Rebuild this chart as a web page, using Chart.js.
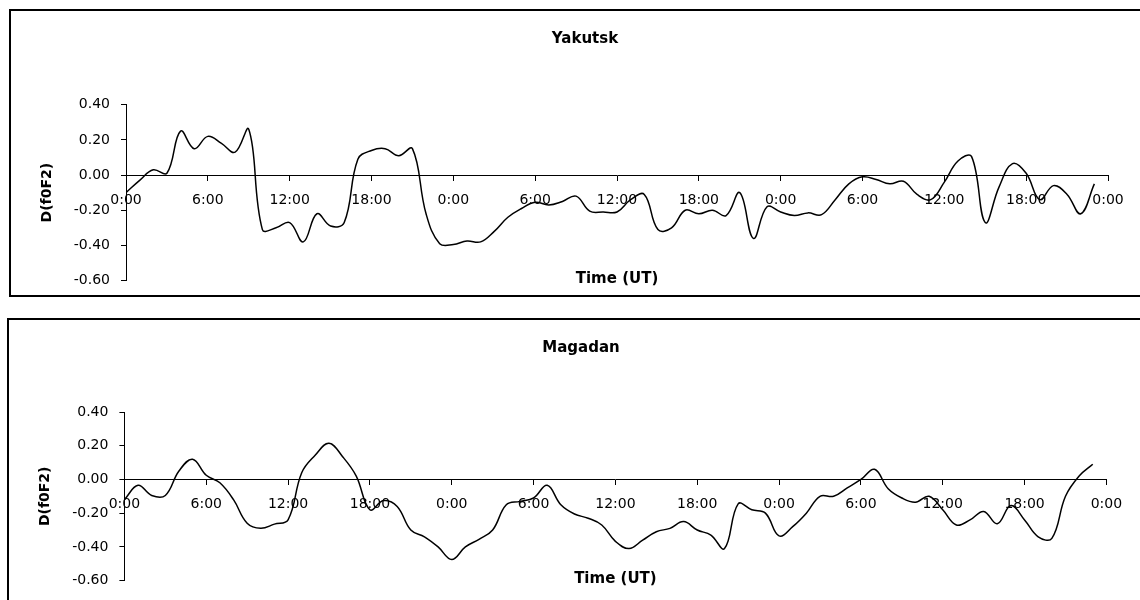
<!DOCTYPE html>
<html>
<head>
<meta charset="utf-8">
<title>D(f0F2) Yakutsk / Magadan</title>
<script src="https://cdn.jsdelivr.net/npm/chart.js@4/dist/chart.umd.min.js"></script>
<style>
  html, body { margin: 0; padding: 0; background: #fff; width: 1140px; height: 600px; overflow: hidden; }
  .frame { position: absolute; box-sizing: border-box; border: 2px solid #000; }
  #frameTop { left: 9px; top: 9px; width: 1200px; height: 288px; }
  #frameBottom { left: 7px; top: 318px; width: 1200px; height: 400px; }
  canvas { position: absolute; left: 0; }
  #yakutsk { top: 0; }
  #magadan { top: 300px; }
</style>
</head>
<body>
<div class="frame" id="frameTop"></div>
<div class="frame" id="frameBottom"></div>
<canvas id="yakutsk" width="1140" height="300"></canvas>
<canvas id="magadan" width="1140" height="300"></canvas>
<script>
// Hours since the start of the 3-day interval (UT)
const hours = [
  0, 1, 2, 3, 4, 5, 6, 7, 8, 9, 10, 11, 12, 13, 14, 15, 16, 17, 18, 19, 20, 21, 22, 23,
  24, 25, 26, 27, 28, 29, 30, 31, 32, 33, 34, 35, 36, 37, 38, 39, 40, 41, 42, 43, 44, 45, 46, 47,
  48, 49, 50, 51, 52, 53, 54, 55, 56, 57, 58, 59, 60, 61, 62, 63, 64, 65, 66, 67, 68, 69, 70, 71
];

// D(f0F2) values
const yakutsk = [
  -0.10, -0.03, 0.03, 0.01, 0.25, 0.15, 0.22, 0.18, 0.13, 0.26, -0.31, -0.30,
  -0.27, -0.38, -0.22, -0.29, -0.27, 0.09, 0.14, 0.15, 0.11, 0.15, -0.22, -0.39,
  -0.395, -0.375, -0.38, -0.32, -0.24, -0.19, -0.155, -0.17, -0.15, -0.12, -0.205, -0.21,
  -0.21, -0.14, -0.11, -0.31, -0.30, -0.20, -0.22, -0.20, -0.23, -0.10, -0.36, -0.18,
  -0.21, -0.23, -0.215, -0.225, -0.14, -0.05, -0.01, -0.025, -0.05, -0.035, -0.11, -0.14,
  -0.04, 0.08, 0.105, -0.27, -0.07, 0.065, 0.01, -0.14, -0.06, -0.11, -0.22, -0.05
];

const magadan = [
  -0.12, -0.035, -0.095, -0.095, 0.05, 0.12, 0.025, -0.02, -0.12, -0.26, -0.29, -0.265,
  -0.24, 0.04, 0.145, 0.215, 0.135, 0.02, -0.18, -0.125, -0.16, -0.30, -0.34, -0.40,
  -0.475, -0.40, -0.355, -0.30, -0.15, -0.13, -0.11, -0.035, -0.15, -0.205, -0.23, -0.27,
  -0.367, -0.41, -0.36, -0.31, -0.29, -0.25, -0.30, -0.33, -0.41, -0.145, -0.18, -0.20,
  -0.335, -0.28, -0.20, -0.10, -0.10, -0.05, 0.0, 0.06, -0.055, -0.11, -0.135, -0.10,
  -0.18, -0.27, -0.24, -0.19, -0.263, -0.155, -0.24, -0.34, -0.35, -0.10, 0.02, 0.09
];

// X axis ticks every 6 hours
const tickHours = [0, 6, 12, 18, 24, 30, 36, 42, 48, 54, 60, 66, 72];
const tickLabels = ["0:00", "6:00", "12:00", "18:00", "0:00", "6:00", "12:00", "18:00", "0:00", "6:00", "12:00", "18:00", "0:00"];

const FONT = "'DejaVu Sans', 'Liberation Sans', Arial, sans-serif";
Chart.defaults.font.family = FONT;
Chart.defaults.color = "#000";

// Build one panel
function makeChart(id, title, values, L) {
  return new Chart(document.getElementById(id), {
    type: "line",
    data: {
      datasets: [{
        data: hours.map((h, i) => ({ x: h, y: values[i] })),
        borderColor: "#000",
        borderWidth: 1.5,
        pointRadius: 0,
        tension: 0.4,
        fill: false,
        xAxisID: "x",
        yAxisID: "y"
      }]
    },
    options: {
      responsive: false,
      animation: false,
      events: [],
      layout: { padding: { left: L.left, right: L.right, top: L.top, bottom: L.bottom } },
      plugins: {
        legend: { display: false },
        tooltip: { enabled: false },
        title: {
          display: true,
          text: title,
          color: "#000",
          font: { size: 15, weight: "bold" },
          padding: { top: L.titleTop, bottom: L.titleBottom }
        }
      },
      scales: {
        x: {
          type: "linear",
          min: 0,
          max: 72,
          position: { y: 0 },
          afterBuildTicks: s => { s.ticks = tickHours.map(v => ({ value: v })); },
          ticks: {
            callback: (v, i) => tickLabels[i],
            color: "#000",
            font: { size: 14 },
            padding: 12,
            maxRotation: 0,
            autoSkip: false
          },
          grid: { display: true, drawOnChartArea: false, drawTicks: true, tickLength: 5, color: "#000" },
          border: { display: true, color: "#000", width: 1 }
        },
        // carries only the "Time (UT)" caption at the bottom of the plot
        xTitle: {
          type: "linear",
          position: "bottom",
          ticks: { display: false },
          grid: { display: false },
          border: { display: false },
          title: { display: true, text: "Time (UT)", color: "#000", font: { size: 15, weight: "bold" }, padding: 0 },
          afterFit: s => { s.height = L.xTitleH; }
        },
        y: {
          type: "linear",
          position: "left",
          min: -0.6,
          max: 0.4,
          ticks: {
            stepSize: 0.2,
            callback: v => (Math.abs(v) < 1e-9 ? "0.00" : v.toFixed(2)),
            color: "#000",
            font: { size: 14 },
            padding: 11
          },
          grid: { display: true, drawOnChartArea: false, drawTicks: true, tickLength: 5, color: "#000" },
          border: { display: true, color: "#000", width: 1 },
          title: { display: true, text: "D(f0F2)", color: "#000", font: { size: 14, weight: "bold" }, padding: 0 },
          afterFit: s => { s.width = L.yWidth; }
        },
        // empty space on the right so the title sits where the original frame centres it
        yPad: {
          type: "linear",
          position: "right",
          ticks: { display: false },
          grid: { display: false },
          border: { display: false },
          afterFit: s => { s.width = L.padWidth; }
        }
      }
    }
  });
}

makeChart("yakutsk", "Yakutsk", yakutsk, {
  left: 39, right: 9, top: 12, bottom: 11.7,
  titleTop: 18, titleBottom: 56.7,
  yWidth: 87, padWidth: 23, xTitleH: 7.6
});

makeChart("magadan", "Magadan", magadan, {
  left: 37, right: 15, top: 20, bottom: 4,
  titleTop: 18.7, titleBottom: 55.3,
  yWidth: 87.4, padWidth: 18.6, xTitleH: 7.7
});
</script>
</body>
</html>
